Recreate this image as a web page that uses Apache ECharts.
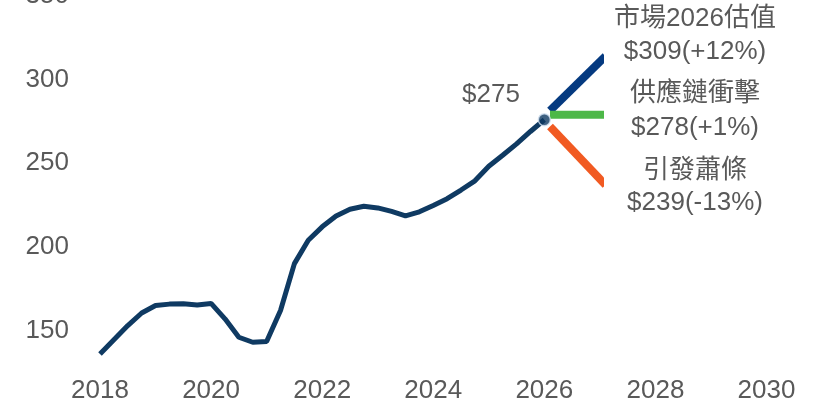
<!DOCTYPE html>
<html>
<head>
<meta charset="utf-8">
<script src="https://cdn.jsdelivr.net/npm/echarts@6/dist/echarts.min.js"></script>
<style>
html,body{margin:0;padding:0;background:#ffffff;}
#c{width:821px;height:408px;}
</style>
</head>
<body>
<div id="c"></div>
<script>
// Quarterly index history, 2018 Q1 .. 2026 Q1
const histYears = [
  2018, 2018.25, 2018.5, 2018.75, 2019, 2019.25, 2019.5, 2019.75,
  2020, 2020.25, 2020.5, 2020.75, 2021, 2021.25, 2021.5, 2021.75,
  2022, 2022.25, 2022.5, 2022.75, 2023, 2023.25, 2023.5, 2023.75,
  2024, 2024.25, 2024.5, 2024.75, 2025, 2025.25, 2025.5, 2025.75, 2026
];
const histValues = [
  136, 144.5, 153, 160.5, 165, 165.8, 166, 165.3,
  166.2, 157, 146, 143, 143.5, 162, 190, 204,
  212, 218.5, 222.5, 224.3, 223.3, 221.2, 218.6, 221,
  224.8, 228.8, 234, 239.5, 248.2, 254.8, 261.6, 269, 276
];
const lastLabel = '$275';

// Scenario projections (start and end points)
const scenarioNames = ['市場2026估值', '供應鏈衝擊', '引發蕭條'];
const scenarioLabels = ['$309(+12%)', '$278(+1%)', '$239(-13%)'];
const scenarioColors = ['#053a80', '#4db848', '#f15a22'];
const scenarioYears = [2026.1, 2027.1];
const scenarioBull = [281.5, 314];
const scenarioFlat = [279, 279];
const scenarioBear = [272, 237];

const xTicks = [2018, 2020, 2022, 2024, 2026, 2028, 2030];
const yTicks = [150, 200, 250, 300, 350];

const FONT = '"Liberation Sans", Arial, "Noto Sans CJK TC", sans-serif';
const GRAY = '#595959';

const chart = echarts.init(document.getElementById('c'));
const zip = (xs, ys) => xs.map((x, i) => [x, ys[i]]);
const scen = [scenarioBull, scenarioFlat, scenarioBear];

const textLines = [];
const textY = [18.5, 52, 94, 128, 171, 203];
scenarioNames.forEach((n, i) => {
  textLines.push(n, scenarioLabels[i]);
});

chart.setOption({
  animation: false,
  backgroundColor: '#ffffff',
  grid: [
    {left: 100, right: 54.5, top: -4, bottom: 44, outerBoundsMode: 'none', containLabel: false},
    {left: 100, right: 221, top: -4, bottom: 44, outerBoundsMode: 'none', containLabel: false}
  ],
  xAxis: [
    {
      type: 'value', gridIndex: 0, min: 2018, max: 2030, interval: 2,
      axisLine: {show: false}, axisTick: {show: false}, splitLine: {show: false},
      axisLabel: {color: GRAY, fontSize: 26, fontFamily: FONT, margin: 14,
        customValues: xTicks, formatter: v => String(v)}
    },
    {
      type: 'value', gridIndex: 1, min: 2018, max: 2027, show: false
    }
  ],
  yAxis: [
    {
      type: 'value', gridIndex: 0, min: 130, max: 350,
      axisLine: {show: false}, axisTick: {show: false}, splitLine: {show: false},
      axisLabel: {color: GRAY, fontSize: 26, fontFamily: FONT, margin: 31,
        customValues: yTicks, formatter: v => String(v)}
    },
    {
      type: 'value', gridIndex: 1, min: 130, max: 350, show: false
    }
  ],
  series: [
    {
      type: 'line', xAxisIndex: 0, yAxisIndex: 0,
      data: zip(histYears, histValues),
      symbol: 'none', smooth: false,
      lineStyle: {color: '#0f3a62', width: 5}
    },
    ...scen.map((vals, i) => ({
      type: 'line', xAxisIndex: 1, yAxisIndex: 1, clip: true,
      data: zip(scenarioYears, vals),
      symbol: 'none',
      lineStyle: {color: scenarioColors[i], width: 8, cap: 'butt'},
      z: 3
    })),
    {
      type: 'scatter', xAxisIndex: 0, yAxisIndex: 0,
      data: [[histYears[histYears.length - 1], histValues[histValues.length - 1]]],
      symbol: 'circle', symbolSize: 12,
      itemStyle: {color: '#0f3a62', borderColor: '#d6e4f2', borderWidth: 1.5},
      z: 4
    }
  ],
  graphic: [
    {
      type: 'text', x: 491, y: 95,
      style: {text: lastLabel, fill: GRAY, font: '26px ' + FONT,
        textAlign: 'center', textVerticalAlign: 'middle'}
    },
    ...textLines.map((t, i) => ({
      type: 'text', x: 695, y: textY[i],
      style: {text: t, fill: GRAY, font: '26px ' + FONT,
        textAlign: 'center', textVerticalAlign: 'middle'}
    }))
  ]
});
</script>
</body>
</html>
